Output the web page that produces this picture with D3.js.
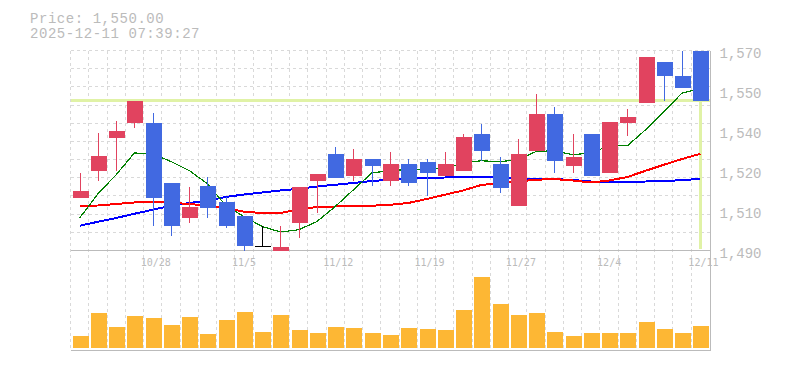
<!DOCTYPE html>
<html lang="ja">
	<head>
		<meta charset="utf-8">
		<title>D3: Candlestick with volume</title>
		<script type="text/javascript" src="https://cdn.jsdelivr.net/npm/d3@7"></script>
		<style type="text/css">
			body { margin: 0; background: #fff; }
			text { fill: #bbbbbb; }
		</style>
	</head>
	<body>
		<script type="text/javascript">

			//Trading days
			var dates = ["10/22","10/23","10/24","10/27","10/28","10/29","10/30","10/31","11/4","11/5",
						 "11/6","11/7","11/10","11/11","11/12","11/13","11/14","11/17","11/18","11/19",
						 "11/20","11/21","11/25","11/26","11/27","11/28","12/1","12/2","12/3","12/4",
						 "12/5","12/8","12/9","12/10","12/11"];
			var dateLabels = ["10/28","11/5","11/12","11/19","11/27","12/4","12/11"];

			//OHLC
			var open  = [1511,1522,1535,1541,1541,1517,1503,1516,1509.5,1504,1492,1490,1501,1518,1528.5,1520,1526.5,1518,1524.5,1525.5,
						 1520,1522,1536.5,1524.5,1508,1530,1544.5,1524,1536.5,1521,1541,1549,1565.5,1560,1570];
			var high  = [1521,1537,1542,1550,1545,1517,1515.5,1519.5,1511.5,1504,1500,1500,1515.5,1520.5,1531.5,1530.5,1526.5,1529.5,1526.5,1526.5,
						 1529.5,1536.5,1540.5,1527.5,1534.5,1552.5,1547.5,1536.5,1536.5,1541.5,1546.5,1567.5,1565.5,1570,1570];
			var low   = [1511,1518,1522,1539,1500,1496,1501,1503,1499,1490,1492,1490,1495,1505,1519,1518,1516,1516,1516,1512,
						 1520,1522,1526,1513,1508,1530,1521,1521,1520,1521,1536,1549,1550,1555,1550];
			var close = [1514,1528,1538,1550,1511,1500,1507.5,1507,1500,1492,1492,1491.5,1515.5,1520.5,1519,1526.5,1524,1524.5,1517,1521,
						 1524.5,1535.5,1530,1515,1528.5,1544.5,1526,1527.5,1520,1541.5,1543.5,1567.5,1560,1555,1550];

			//Moving averages
			var ma5  = [1503,1512.7,1520.3,1529,1528.7,1525.6,1522,1516.7,1508,1503.6,1499.6,1497.4,1498.3,1501.6,1507.6,1514.3,1521,1522,1522.4,1522.5,
						1522.8,1525,1525.9,1525.5,1526.3,1529.6,1529.9,1528.3,1529,1531.9,1531.9,1538.3,1545.6,1553,1554.8];
			var ma25 = [1507.9,1508,1508.6,1509.2,1509.4,1509.1,1508.6,1508,1507.1,1505.5,1505,1505,1506.5,1507.4,1507.6,1507.8,1507.9,1508.3,1509,1510.6,
						1512.3,1514,1516.2,1517,1517.6,1518.3,1518.6,1518,1517.2,1518,1519.4,1521.9,1524.3,1526.6,1528.7];
			var ma75 = [1499.9,1501.5,1503,1504.7,1506.3,1507.9,1509,1510,1511.4,1512.4,1513.2,1514,1514.7,1515.6,1516.3,1517,1517.8,1518.3,1518.6,1519.1,
						1519.2,1519.4,1519.5,1519.4,1518.7,1518.6,1518.6,1518.2,1517.6,1517.4,1517.4,1517.6,1517.7,1518.2,1518.6];

			//Volume
			var volume = [11700,35000,20700,31700,29700,22700,30700,13700,27700,35700,15700,32700,17700,14700,20700,19700,14700,12700,19700,18700,
						  17700,37700,70700,43700,32700,34700,15700,11700,14700,14700,14700,25700,18700,14700,21700];

			//Axis ticks
			var priceTicks = [1490,1506,1522,1538,1554,1570];
			var priceTickLabels = ["1,490","1,510","1,520","1,540","1,550","1,570"];

			var lastPrice = 1550;

			//Width and height
			var w = 785;
			var h = 370;
			var left = 70.5, right = 709.5;
			var priceTop = 50.5, priceBottom = 250.5;
			var volBottom = 350.5;

			var svg = d3.select("body")
						.append("svg")
						.attr("width", w)
						.attr("height", h)
						.style("font-family", "'Liberation Mono', monospace");

			//Scales
			var x = d3.scaleBand()
					  .domain(dates)
					  .range([left, right]);
			var bw = x.bandwidth();
			var cx = function(i) { return x(dates[i]) + bw / 2; };

			var y = d3.scaleLinear()
					  .domain([1490, 1570])
					  .range([priceBottom, priceTop]);

			var yVol = d3.scaleLinear()
						 .domain([0, 97000])
						 .range([348, 251]);

			//Grid
			var grid = svg.append("g")
						  .attr("stroke", "#d9d9d9")
						  .attr("stroke-dasharray", "3,3")
						  .attr("shape-rendering", "crispEdges");

			grid.selectAll("line.h")
				.data(d3.range(11))
				.enter()
				.append("line")
				.attr("class", "h")
				.attr("x1", left)
				.attr("x2", right)
				.attr("y1", function(d) { return priceTop + d * (priceBottom - priceTop) / 11; })
				.attr("y2", function(d) { return priceTop + d * (priceBottom - priceTop) / 11; });

			grid.selectAll("line.v")
				.data(d3.range(dates.length))
				.enter()
				.append("line")
				.attr("class", "v")
				.attr("x1", function(d) { return x(dates[d]); })
				.attr("x2", function(d) { return x(dates[d]); })
				.attr("y1", priceTop)
				.attr("y2", volBottom);

			//Frame
			var frame = svg.append("g")
						   .attr("stroke", "#bbbbbb")
						   .attr("shape-rendering", "crispEdges");
			frame.append("line").attr("x1", left).attr("x2", right + 1).attr("y1", priceBottom).attr("y2", priceBottom);
			frame.append("line").attr("x1", left).attr("x2", right + 1).attr("y1", volBottom).attr("y2", volBottom);
			frame.append("line").attr("x1", right + 0.5).attr("x2", right + 0.5).attr("y1", priceTop).attr("y2", volBottom);

			//Last price marker
			var mark = svg.append("g")
						  .attr("stroke", "#e0f2a6")
						  .attr("stroke-width", 3)
						  .attr("shape-rendering", "crispEdges");
			mark.append("line")
				.attr("x1", left).attr("x2", right)
				.attr("y1", y(lastPrice)).attr("y2", y(lastPrice));
			mark.append("line")
				.attr("x1", cx(dates.length - 1)).attr("x2", cx(dates.length - 1))
				.attr("y1", y(lastPrice)).attr("y2", priceBottom - 2);

			//Moving average lines
			var maLine = function(data) {
				return d3.line()
						 .x(function(d, i) { return cx(i); })
						 .y(function(d) { return y(d); })(data);
			};
			var maSeries = [
				{ data: ma75, color: "#0000ff", width: 2 },
				{ data: ma25, color: "#ff0000", width: 2 },
				{ data: ma5,  color: "#008000", width: 1.2 }
			];
			svg.selectAll("path.ma")
			   .data(maSeries)
			   .enter()
			   .append("path")
			   .attr("class", "ma")
			   .attr("d", function(d) { return maLine(d.data); })
			   .attr("fill", "none")
			   .attr("stroke", function(d) { return d.color; })
			   .attr("stroke-width", function(d) { return d.width; })
			   .attr("shape-rendering", "crispEdges");

			//Candles
			var candleColor = function(i) {
				if (close[i] > open[i]) return "#e1435f";
				if (close[i] < open[i]) return "#4169e1";
				return "#000000";
			};
			var candles = svg.append("g")
							 .attr("shape-rendering", "crispEdges")
							 .selectAll("g")
							 .data(d3.range(dates.length))
							 .enter()
							 .append("g");

			candles.append("line")
				   .attr("x1", function(i) { return Math.round(cx(i)) + 0.5; })
				   .attr("x2", function(i) { return Math.round(cx(i)) + 0.5; })
				   .attr("y1", function(i) { return y(high[i]); })
				   .attr("y2", function(i) { return y(low[i]); })
				   .attr("stroke", candleColor)
				   .attr("stroke-width", 1.5);

			candles.append("rect")
				   .attr("x", function(i) { return Math.round(cx(i)) - 7.5; })
				   .attr("width", 16)
				   .attr("y", function(i) { return y(Math.max(open[i], close[i])); })
				   .attr("height", function(i) { return Math.max(1.5, Math.abs(y(open[i]) - y(close[i]))); })
				   .attr("fill", candleColor);

			//Volume bars
			svg.append("g")
			   .attr("shape-rendering", "crispEdges")
			   .selectAll("rect")
			   .data(volume)
			   .enter()
			   .append("rect")
			   .attr("x", function(d, i) { return Math.round(cx(i)) - 7.5; })
			   .attr("width", 16)
			   .attr("y", function(d) { return yVol(d); })
			   .attr("height", function(d) { return yVol(0) - yVol(d); })
			   .attr("fill", "#fdb734");

			//Price axis
			var yAxis = d3.axisRight(y)
						  .tickValues(priceTicks)
						  .tickFormat(function(d, i) { return priceTickLabels[i]; })
						  .tickSize(0)
						  .tickPadding(10);
			var gy = svg.append("g")
						.attr("transform", "translate(" + right + ",0)")
						.call(yAxis);
			gy.select(".domain").remove();
			gy.selectAll("text")
			  .attr("dy", "0.47em")
			  .attr("fill", "#bbbbbb")
			  .style("font-family", "'Liberation Mono', monospace")
			  .style("font-size", "14px");

			//Date axis
			var xAxis = d3.axisBottom(x)
						  .tickValues(dateLabels)
						  .tickSize(0)
						  .tickPadding(8.4);
			var gx = svg.append("g")
						.attr("transform", "translate(0," + priceBottom + ")")
						.call(xAxis);
			gx.select(".domain").remove();
			gx.selectAll("text")
			  .attr("text-anchor", "start")
			  .attr("x", -12)
			  .attr("fill", "#bbbbbb")
			  .style("font-family", "'DejaVu Sans Mono', monospace")
			  .style("font-size", "10px");

			//Header
			svg.append("text")
			   .attr("x", 30)
			   .attr("y", 22.7)
			   .style("font-size", "14px")
			   .style("letter-spacing", "0.55px")
			   .text("Price: " + d3.format(",.2f")(lastPrice));
			svg.append("text")
			   .attr("x", 30)
			   .attr("y", 37.7)
			   .style("font-size", "14px")
			   .style("letter-spacing", "0.55px")
			   .text("2025-12-11 07:39:27");

		</script>
	</body>
</html>
